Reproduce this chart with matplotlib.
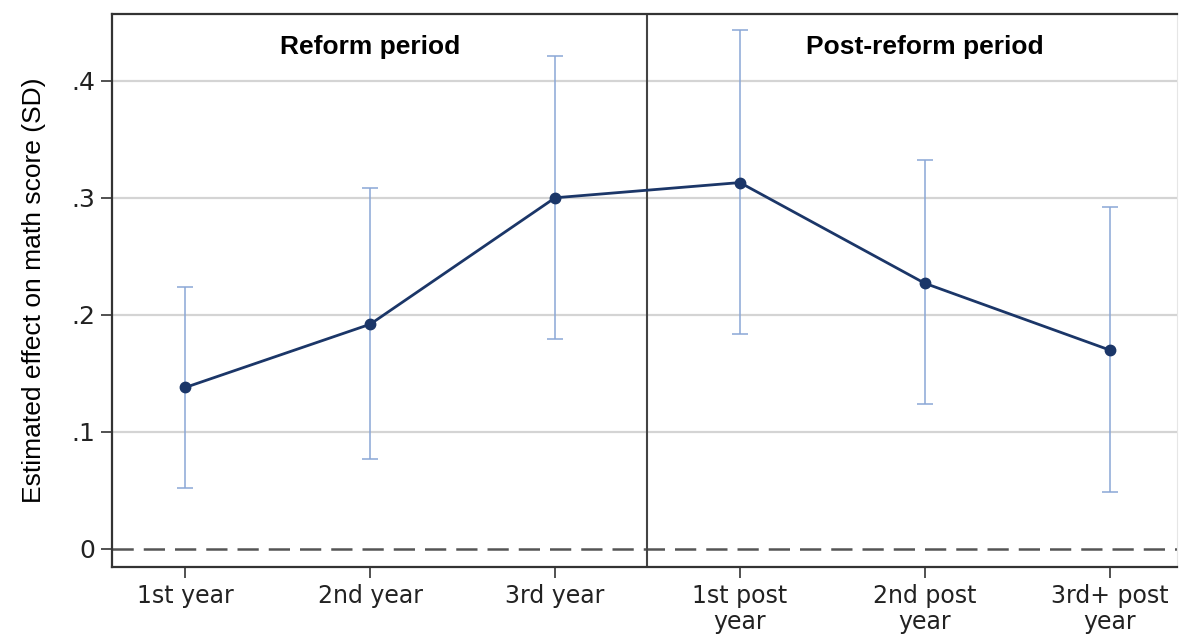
import matplotlib
matplotlib.use("Agg")
import matplotlib.pyplot as plt
import numpy as np

# estimates and 95% CIs
periods = ["1st year", "2nd year", "3rd year", "1st post\nyear", "2nd post\nyear", "3rd+ post\nyear"]
estimate = [0.138, 0.192, 0.300, 0.313, 0.227, 0.170]
ci_low = [0.052, 0.077, 0.179, 0.184, 0.124, 0.049]
ci_high = [0.224, 0.308, 0.421, 0.443, 0.332, 0.292]
yticks = [0, 0.1, 0.2, 0.3, 0.4]
ytick_labels = ["0", ".1", ".2", ".3", ".4"]

navy = "#1b3668"
ci_color = "#8aa7d6"

fig = plt.figure(figsize=(11.8, 6.35), dpi=100)
ax = fig.add_axes([112 / 1180, 1 - 567 / 635, (1177 - 112) / 1180, (567 - 14) / 635])

x = np.arange(1, len(periods) + 1)
est = np.array(estimate)
yerr = [est - np.array(ci_low), np.array(ci_high) - est]

for yt in yticks[1:]:
    ax.axhline(yt, color="#d4d4d4", lw=1.6, zorder=0)
ax.axhline(0, color="#555555", lw=1.8, ls=(0, (8.5, 4)), zorder=1)
ax.axvline(3.5, color="#444444", lw=1.5, zorder=1)

ax.errorbar(x, est, yerr=yerr, fmt="none", ecolor=ci_color, elinewidth=1.1,
            capsize=6, capthick=1.1, zorder=2)
ax.plot(x, est, color=navy, lw=2.0, marker="o", ms=7.5, mfc=navy, mec=navy, zorder=3)

ax.set_xlim(0.603, 6.365)
ax.set_ylim(-0.0154, 0.457)
ax.set_xticks(x)
ax.set_xticklabels(periods, fontsize=17, color="#222222", family="DejaVu Sans", linespacing=1.12)
ax.set_yticks(yticks)
ax.set_yticklabels(ytick_labels, fontsize=18, color="#222222", family="DejaVu Sans")
ax.tick_params(axis="both", length=8, width=1.2, color="#333333", pad=4)
ax.set_ylabel("Estimated effect on math score (SD)", fontsize=19, family="Liberation Sans", labelpad=18)

for side in ["left", "bottom", "top"]:
    ax.spines[side].set_color("#333333")
    ax.spines[side].set_linewidth(1.6)
ax.spines["right"].set_color("#e6e6e6")

ax.text(2.0, 0.429, "Reform period", ha="center", va="center", fontsize=19,
        fontweight="bold", family="Liberation Sans")
ax.text(5.0, 0.429, "Post-reform period", ha="center", va="center", fontsize=19,
        fontweight="bold", family="Liberation Sans")

fig.savefig("out.png", dpi=100)
